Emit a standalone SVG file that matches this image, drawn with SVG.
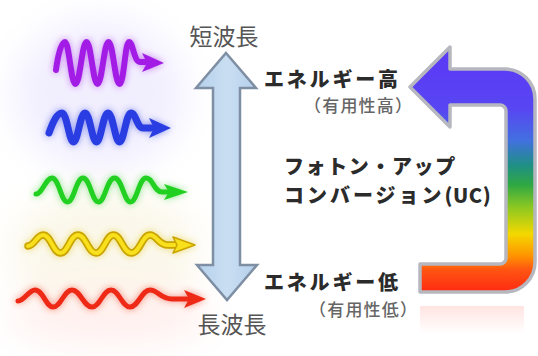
<svg xmlns="http://www.w3.org/2000/svg" width="538" height="356" viewBox="0 0 538 356">
  <style>
    .jp { font-family: "Noto Sans CJK JP", "Noto Sans", sans-serif; }
    .scale { font-size: 23px; fill: #555; }
    .lvl { font-size: 20px; font-weight: 900; fill: #2b2b2b; letter-spacing: 2.8px; }
    .sub { font-size: 17px; font-weight: 500; fill: #666; letter-spacing: 1.2px; }
    .uc { font-size: 20px; font-weight: 900; fill: #2b2b2b; }
    .wave { fill: none; stroke-linecap: round; stroke-linejoin: round; }
  </style>
  <defs>
    <filter id="glow" x="-20%" y="-40%" width="140%" height="180%">
      <feGaussianBlur in="SourceGraphic" stdDeviation="3.5" result="b"/>
      <feComponentTransfer in="b" result="bf"><feFuncA type="linear" slope="0.55"/></feComponentTransfer>
      <feMerge><feMergeNode in="bf"/><feMergeNode in="SourceGraphic"/></feMerge>
    </filter>
    <filter id="haze" x="-50%" y="-50%" width="200%" height="200%">
      <feGaussianBlur stdDeviation="18"/>
    </filter>
    <linearGradient id="spectrum" gradientUnits="userSpaceOnUse" x1="0" y1="69" x2="0" y2="292">
      <stop offset="0" stop-color="#5a3cf5"/>
      <stop offset="0.18" stop-color="#5846f2"/>
      <stop offset="0.32" stop-color="#4270e0"/>
      <stop offset="0.43" stop-color="#1f8f86"/>
      <stop offset="0.52" stop-color="#2fa843"/>
      <stop offset="0.62" stop-color="#8cc822"/>
      <stop offset="0.74" stop-color="#f4d800"/>
      <stop offset="0.84" stop-color="#ff9200"/>
      <stop offset="0.9" stop-color="#ff5512"/>
      <stop offset="1" stop-color="#ff2a12"/>
    </linearGradient>
    <linearGradient id="shaftBlue" x1="0" y1="0" x2="1" y2="0">
      <stop offset="0" stop-color="#b4d0ec"/>
      <stop offset="0.5" stop-color="#c9def2"/>
      <stop offset="1" stop-color="#b4d0ec"/>
    </linearGradient>
    <linearGradient id="reflect" x1="0" y1="0" x2="0" y2="1">
      <stop offset="0" stop-color="#ff7a6a" stop-opacity="0.2"/>
      <stop offset="1" stop-color="#ff7a6a" stop-opacity="0"/>
    </linearGradient>
  </defs>

  <rect width="538" height="356" fill="#ffffff"/>

  <!-- soft background haze behind the waves -->
  <g id="backdrop" filter="url(#haze)">
    <ellipse cx="100" cy="95" rx="85" ry="75" fill="#f1eefe"/>
    <ellipse cx="105" cy="250" rx="95" ry="60" fill="#fbf8ea"/>
    <ellipse cx="110" cy="315" rx="100" ry="30" fill="#fff0ee"/>
  </g>

  <!-- light waves, short to long wavelength -->
  <g id="waves" filter="url(#glow)">
    <g id="wave-violet">
      <path class="wave" stroke="#a21fe6" stroke-width="6" d="M56,70 C58,55 61,42 65,42 C69,42 71,84 75.5,84 C80,84 82,42 86.5,42 C91,42 93,84 97.5,84 C102,84 104,42 108.5,42 C113,42 115,84 119.5,84 C124,84 125,42 129,42 C133,42 134,62 140,62 L147,62"/>
      <polygon fill="#a21fe6" points="142,53 164,63 142,72 147,63"/>
    </g>
    <g id="wave-blue">
      <path class="wave" stroke="#2a3ee2" stroke-width="7" d="M49,133 C53,122 57,113 62,113 C67,113 69,142 73.5,142 C78,142 80,113 85,113 C90,113 92,142 96.5,142 C101,142 103,113 108,113 C113,113 115,142 119.5,142 C124,142 126,113 131,113 C136,113 137,128 143,128 L151,128"/>
      <polygon fill="#2a3ee2" points="149,118 171,128 149,138 154,128"/>
    </g>
    <g id="wave-green">
      <path class="wave" stroke="#22d022" stroke-width="5" d="M36,194 C42,194 46,178 52,178 C59,178 61,202 67.5,202 C74,202 76,178 83,178 C90,178 92,202 98.5,202 C105,202 107,178 114.5,178 C122,178 124,202 130.5,202 C137,202 139,178 146,178 C153,178 154,192 162,192 L168,192"/>
      <polygon fill="#22d022" points="164,184 188,192 164,200 169,192"/>
    </g>
    <g id="wave-yellow">
      <path class="wave" stroke="#c9a400" stroke-width="7.5" d="M28,246 C34,246 37,235 43,235 C51,235 53,253 60.5,253 C68,253 70,235 78,235 C86,235 88,253 96,253 C104,253 106,235 113.5,235 C121,235 123,253 131.5,253 C140,253 142,235 150,235 C157,235 158,245 168,245 L176,245"/>
      <path class="wave" stroke="#f8e01a" stroke-width="4" d="M28,246 C34,246 37,235 43,235 C51,235 53,253 60.5,253 C68,253 70,235 78,235 C86,235 88,253 96,253 C104,253 106,235 113.5,235 C121,235 123,253 131.5,253 C140,253 142,235 150,235 C157,235 158,245 168,245 L176,245"/>
      <polygon fill="#f8e01a" stroke="#c9a400" stroke-width="1.5" stroke-linejoin="round" points="173,237 195,245 173,253 177,245"/>
    </g>
    <g id="wave-red">
      <path class="wave" stroke="#ee2a18" stroke-width="5" d="M18,301 C24,301 29,290 35,290 C43,290 46,307 53,307 C61,307 64,290 72,290 C80,290 84,307 92,307 C100,307 103,290 111,290 C119,290 122,307 130,307 C138,307 142,290 150,290 C158,290 160,299 172,299 L187,299"/>
      <polygon fill="#ee2a18" points="184,290 206,299 184,308 189,299"/>
    </g>
  </g>

  <!-- wavelength scale: double-headed arrow -->
  <g id="wavelength-axis">
    <path d="M226,53 L256,88 L240,88 L240,265 L257,265 L227,300 L197,265 L213,265 L213,88 L196,88 Z" fill="url(#shaftBlue)" stroke="#7e8fa3" stroke-width="2.5" stroke-linejoin="miter"/>
    <text class="jp scale" x="224" y="45" text-anchor="middle">短波長</text>
    <text class="jp scale" x="232" y="333" text-anchor="middle">長波長</text>
  </g>

  <!-- energy levels -->
  <g id="level-high">
    <text class="jp lvl" x="264" y="87">エネルギー高</text>
    <text class="jp sub" x="304" y="112">（有用性高）</text>
  </g>
  <g id="level-low">
    <text class="jp lvl" x="264" y="290">エネルギー低</text>
    <text class="jp sub" x="309" y="316">（有用性低）</text>
  </g>

  <g id="uc-label">
    <text class="jp uc" x="284" y="174" letter-spacing="1.6">フォトン・アップ</text>
    <text class="jp uc" x="284" y="203"><tspan letter-spacing="3">コンバージョン</tspan><tspan letter-spacing="0.5">(UC)</tspan></text>
  </g>

  <!-- up-conversion U-shaped arrow with spectrum fill -->
  <g id="uc-arrow">
    <rect x="420" y="306" width="104" height="28" fill="url(#reflect)"/>
    <path d="M410,87 L450,47 L450,69 L505,69 A30,30 0 0 1 535,99 L535,262 A30,30 0 0 1 505,292 L420,292 L420,264 L500,264 A6,6 0 0 0 506,258 L506,111 A6,6 0 0 0 500,105 L450,105 L450,127 Z" fill="url(#spectrum)" stroke="#b7b7c0" stroke-width="3.5" stroke-linejoin="round"/>
  </g>
</svg>
